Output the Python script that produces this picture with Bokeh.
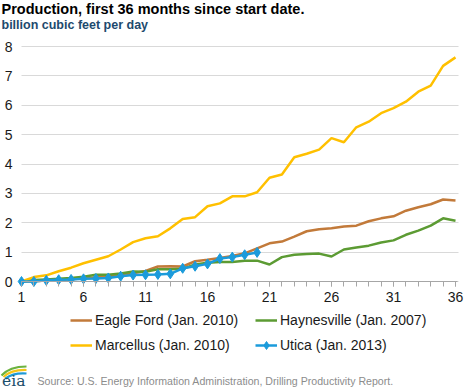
from bokeh.plotting import figure
from bokeh.models import Range1d, FixedTicker, Legend, LegendItem, Label
from bokeh.embed import file_html
from bokeh.resources import INLINE

# ---------------- data ----------------
months = list(range(1, 37))
eagle_ford = [0, 0.01, 0.03, 0.05, 0.08, 0.11, 0.14, 0.17, 0.22, 0.28,
              0.36, 0.51, 0.52, 0.51, 0.69, 0.74, 0.80, 0.87, 0.96, 1.13,
              1.30, 1.36, 1.53, 1.71, 1.78, 1.81, 1.87, 1.90, 2.05, 2.15,
              2.22, 2.41, 2.53, 2.63, 2.79, 2.76]
haynesville = [0, 0.05, 0.07, 0.09, 0.12, 0.16, 0.23, 0.23, 0.27, 0.34,
               0.33, 0.42, 0.42, 0.43, 0.58, 0.64, 0.66, 0.66, 0.71, 0.71,
               0.58, 0.83, 0.91, 0.94, 0.95, 0.85, 1.09, 1.16, 1.22, 1.33,
               1.40, 1.59, 1.73, 1.90, 2.15, 2.07]
marcellus = [0, 0.15, 0.21, 0.35, 0.47, 0.62, 0.74, 0.86, 1.09, 1.34,
             1.47, 1.54, 1.81, 2.13, 2.19, 2.56, 2.66, 2.90, 2.90, 3.04,
             3.53, 3.64, 4.23, 4.35, 4.49, 4.88, 4.74, 5.25, 5.44, 5.73,
             5.90, 6.12, 6.46, 6.67, 7.34, 7.63]
utica_months = list(range(1, 21))
utica = [0, 0.0, 0.04, 0.06, 0.07, 0.09, 0.10, 0.12, 0.18, 0.22,
         0.23, 0.24, 0.26, 0.45, 0.52, 0.60, 0.78, 0.83, 0.91, 0.99]

x_ticks = [1, 6, 11, 16, 21, 26, 31, 36]
y_ticks = [0, 1, 2, 3, 4, 5, 6, 7, 8]
series_names = ["Eagle Ford (Jan. 2010)", "Haynesville (Jan. 2007)",
                "Marcellus (Jan. 2010)", "Utica (Jan. 2013)"]
title_text = "Production, first 36 months since start date."
subtitle_text = "billion cubic feet per day"
source_text = "Source: U.S. Energy Information Administration, Drilling Productivity Report."

# ---------------- geometry / styles ----------------
FONT = "Liberation Sans"
W, H = 468, 388
X0_PX, X36_PX = 21.0, 455.0          # pixel position of month 1 and month 36
Y0_PX, Y8_PX = 281.0, 46.0           # pixel position of value 0 and value 8
SX = (X36_PX - X0_PX) / 35.0
SY = (Y0_PX - Y8_PX) / 8.0
X_START = 1 - X0_PX / SX
X_END = 36 + (W - X36_PX) / SX
Y_END = Y0_PX / SY
Y_START = -(H - Y0_PX) / SY


def px_x(px):
    return X_START + px / SX


def px_y(py):
    return Y_END - py / SY


C_EF = "#c27a3a"
C_HV = "#5c9b33"
C_MA = "#ffc000"
C_UT = "#1b9bdb"
AXIS_GRAY = "#a6a6a6"

p = figure(width=W, height=H, x_range=Range1d(X_START, X_END), y_range=Range1d(Y_START, Y_END),
           output_backend="svg", toolbar_location=None,
           min_border_left=0, min_border_right=0, min_border_top=0, min_border_bottom=0)
p.outline_line_color = None
p.background_fill_color = "white"
p.border_fill_color = "white"

# grid
p.xgrid.visible = False
p.ygrid.ticker = FixedTicker(ticks=y_ticks)
p.ygrid.grid_line_color = "#d9d9d9"
p.ygrid.grid_line_width = 1
try:
    p.ygrid.cross_bounds = (1, 36.25)
except Exception:
    pass

# axes drawn at fixed locations inside the canvas
p.yaxis.fixed_location = 1
p.yaxis.bounds = (0, 8)
p.yaxis.ticker = FixedTicker(ticks=y_ticks)
p.yaxis.axis_line_color = None
p.yaxis.major_tick_line_color = None
p.yaxis.minor_tick_line_color = None
p.yaxis.major_tick_in = 0
p.yaxis.major_tick_out = 0
p.yaxis.minor_tick_in = 0
p.yaxis.minor_tick_out = 0
p.yaxis.major_label_text_font = FONT
p.yaxis.major_label_text_font_size = "14px"
p.yaxis.major_label_text_color = "#1a1a1a"
p.yaxis.major_label_standoff = 9

p.xaxis.fixed_location = 0
p.xaxis.bounds = (1, 36.15)
p.xaxis.ticker = FixedTicker(ticks=x_ticks, minor_ticks=months)
p.xaxis.axis_line_color = AXIS_GRAY
p.xaxis.axis_line_width = 1
p.xaxis.major_tick_line_color = AXIS_GRAY
p.xaxis.minor_tick_line_color = AXIS_GRAY
p.xaxis.major_tick_in = 0
p.xaxis.major_tick_out = 5
p.xaxis.minor_tick_in = 0
p.xaxis.minor_tick_out = 5
p.xaxis.major_label_text_font = FONT
p.xaxis.major_label_text_font_size = "14px"
p.xaxis.major_label_text_color = "#1a1a1a"
p.xaxis.major_label_standoff = 5

# series
r_ef = p.line(months, eagle_ford, line_color=C_EF, line_width=2.5)
r_hv = p.line(months, haynesville, line_color=C_HV, line_width=2.5)
r_ma = p.line(months, marcellus, line_color=C_MA, line_width=2.5)
r_ut = p.line(utica_months, utica, line_color=C_UT, line_width=2.5)
r_utm = p.scatter(utica_months, utica, marker="diamond", size=10,
                  fill_color=C_UT, line_color=C_UT)

# legend (two columns, below the plot area)
legend = Legend(items=[
    LegendItem(label=series_names[0], renderers=[r_ef]),
    LegendItem(label=series_names[1], renderers=[r_hv]),
    LegendItem(label=series_names[2], renderers=[r_ma]),
    LegendItem(label=series_names[3], renderers=[r_ut, r_utm]),
], orientation="horizontal", ncols=2, location=(70, 33))
legend.label_text_font = FONT
legend.label_text_font_size = "14px"
legend.label_text_color = "#1a1a1a"
legend.glyph_width = 22
legend.glyph_height = 20
legend.label_height = 20
legend.label_width = 155
legend.label_standoff = 3
legend.spacing = 5
legend.padding = 0
legend.margin = 0
legend.border_line_color = None
legend.background_fill_alpha = 0
p.add_layout(legend)

# titles
p.add_layout(Label(x=px_x(1), y=px_y(8.5), text=title_text, text_font=FONT,
                   text_font_size="14.5px", text_font_style="bold", text_color="#000000",
                   text_baseline="alphabetic", text_align="left"))
p.add_layout(Label(x=px_x(1), y=px_y(24.75), text=subtitle_text, text_font=FONT,
                   text_font_size="12.5px", text_font_style="bold", text_color="#1d4a6e",
                   text_baseline="alphabetic", text_align="left"))

# footer: eia logo and source note
p.quadratic(x0=[px_x(1)], y0=[px_y(375)], x1=[px_x(26)], y1=[px_y(366)],
            cx=[px_x(9)], cy=[px_y(366)], line_color="#6cb33f", line_width=2.2)
p.quadratic(x0=[px_x(3)], y0=[px_y(376.5)], x1=[px_x(26)], y1=[px_y(369.5)],
            cx=[px_x(11)], cy=[px_y(369)], line_color="#f5c518", line_width=2.2)
p.quadratic(x0=[px_x(5)], y0=[px_y(378)], x1=[px_x(26)], y1=[px_y(373)],
            cx=[px_x(13)], cy=[px_y(372)], line_color="#1f9ad6", line_width=2.2)
p.add_layout(Label(x=px_x(1.5), y=px_y(380), text="eia", text_font="DejaVu Serif",
                   text_font_size="15.5px", text_color="#1b4e6b",
                   text_baseline="alphabetic", text_align="left"))
p.add_layout(Label(x=px_x(37), y=px_y(380), text=source_text, text_font=FONT,
                   text_font_size="10.6px", text_color="#8c8c8c",
                   text_baseline="alphabetic", text_align="left"))

open("out.html", "w").write(file_html(p, INLINE))
